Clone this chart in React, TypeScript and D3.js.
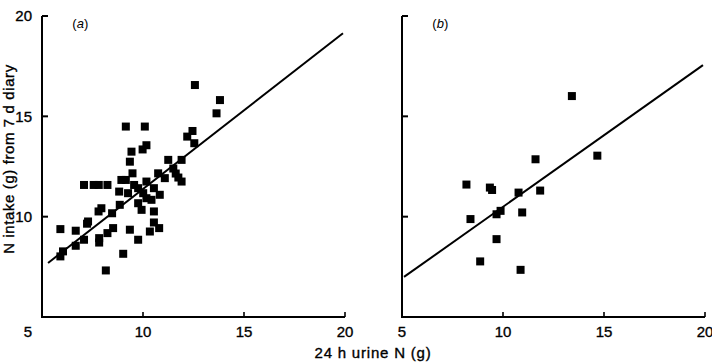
import React from "react";
import * as d3 from "d3";

const WIDTH = 712;
const HEIGHT = 364;
const FONT = "'Liberation Sans', Arial, sans-serif";

// (a): 24 h urine N (g) vs N intake (g) from 7 d diary
const urineA = [
  12.57, 13.81, 13.64, 9.15, 10.09, 10.17, 12.45, 12.19, 12.54, 9.43, 9.98,
  9.35, 9.48, 8.93, 9.15, 7.08, 7.56, 7.81, 8.24, 8.82, 9.26, 9.56, 9.76,
  10.17, 10.75, 11.08, 11.25, 11.5, 11.62, 11.75, 11.91, 11.91, 10.01, 10.17,
  10.54, 10.83, 10.42, 9.76, 9.93, 8.85, 8.47, 7.94, 7.8, 7.28, 7.23, 5.91,
  6.67, 6.67, 7.08, 7.83, 7.83, 8.24, 8.52, 9.35, 9.76, 9.02, 10.34, 10.54,
  10.54, 10.8, 8.16, 5.91, 6.04,
];
const intakeA = [
  16.56, 15.81, 15.15, 14.49, 14.49, 13.56, 14.27, 13.99, 13.66, 13.24, 13.35,
  12.74, 12.16, 11.83, 11.83, 11.58, 11.58, 11.58, 11.58, 11.25, 11.17, 11.58,
  11.42, 11.75, 12.16, 11.92, 12.83, 12.4, 12.15, 11.95, 11.75, 12.83, 11.17,
  10.92, 11.42, 11.09, 10.84, 10.67, 10.34, 10.59, 10.17, 10.42, 10.26, 9.76,
  9.65, 9.38, 9.3, 8.55, 8.85, 8.93, 8.71, 9.18, 9.43, 9.35, 8.85, 8.15, 9.26,
  10.26, 9.71, 9.43, 7.32, 8.02, 8.27,
];

// (b)
const urineB = [
  13.41, 14.67, 11.61, 8.19, 9.35, 9.46, 10.77, 11.84, 8.39, 9.68, 9.88, 10.95,
  9.68, 8.87, 10.87,
];
const intakeB = [
  16.01, 13.04, 12.86, 11.6, 11.45, 11.33, 11.2, 11.3, 9.88, 10.12, 10.29,
  10.21, 8.88, 7.77, 7.35,
];

// regression lines: intercept, slope, x extent
const fitA = { intercept: 3.54, slope: 0.784, from: 5.3, to: 19.9 };
const fitB = { intercept: 3.36, slope: 0.713, from: 5.1, to: 19.9 };

const ticks = [10, 15, 20];
const domain: [number, number] = [5, 20];

type Fit = { intercept: number; slope: number; from: number; to: number };

// slightly heavier text, like the printed figure
const textStyle = {
  fontFamily: FONT,
  fontSize: 15,
  stroke: "#000",
  strokeWidth: 0.35,
} as const;

function Panel({
  left,
  right,
  tag,
  urine,
  intake,
  fit,
  showYLabels,
}: {
  left: number;
  right: number;
  tag: string;
  urine: number[];
  intake: number[];
  fit: Fit;
  showYLabels: boolean;
}) {
  const x = d3.scaleLinear().domain(domain).range([left, right]);
  const y = d3.scaleLinear().domain(domain).range([317, 16]);
  const line = d3
    .line<number>()
    .x((d) => x(d))
    .y((d) => y(fit.intercept + fit.slope * d));
  const size = 8;

  return (
    <g>
      <path
        d={`M${x(5)},${y(20)}V${y(5)}H${x(20)}`}
        fill="none"
        stroke="#000"
        strokeWidth={2}
      />
      {ticks.map((t) => (
        <g key={t}>
          <line x1={x(5)} x2={x(5) + 6} y1={y(t)} y2={y(t)} stroke="#000" strokeWidth={2} />
          <line x1={x(t)} x2={x(t)} y1={y(5)} y2={y(5) - 5} stroke="#000" strokeWidth={1.6} />
          <text x={x(t)} y={337} textAnchor="middle" style={textStyle}>
            {t}
          </text>
          {showYLabels && (
            <text x={x(5) - 10} y={y(t)} dy="0.36em" textAnchor="end" style={textStyle}>
              {t}
            </text>
          )}
        </g>
      ))}
      <text x={showYLabels ? x(5) - 14 : x(5)} y={337} textAnchor="middle" style={textStyle}>
        5
      </text>
      <text x={x(6.5)} y={y(19.4)} fontSize={13} fontFamily={FONT}>
        (<tspan fontStyle="italic">{tag}</tspan>)
      </text>
      <path d={line([fit.from, fit.to]) ?? ""} fill="none" stroke="#000" strokeWidth={2} />
      {urine.map((u, i) => (
        <rect
          key={i}
          x={x(u) - size / 2}
          y={y(intake[i]) - size / 2}
          width={size}
          height={size}
          fill="#000"
        />
      ))}
    </g>
  );
}

export default function App() {
  return (
    <svg
      width={WIDTH}
      height={HEIGHT}
      style={{ position: "absolute", left: 0, top: 0, background: "#fff" }}
    >
      <rect width={WIDTH} height={HEIGHT} fill="#fff" />
      <Panel left={42} right={345} tag="a" urine={urineA} intake={intakeA} fit={fitA} showYLabels />
      <Panel left={402} right={705} tag="b" urine={urineB} intake={intakeB} fit={fitB} showYLabels={false} />
      <text x={373} y={358} textAnchor="middle" letterSpacing={0.8} style={textStyle}>
        24 h urine N (g)
      </text>
      <text
        transform="translate(14,159) rotate(-90)"
        textAnchor="middle"
        letterSpacing={0.6}
        style={textStyle}
      >
        N intake (g) from 7 d diary
      </text>
    </svg>
  );
}
